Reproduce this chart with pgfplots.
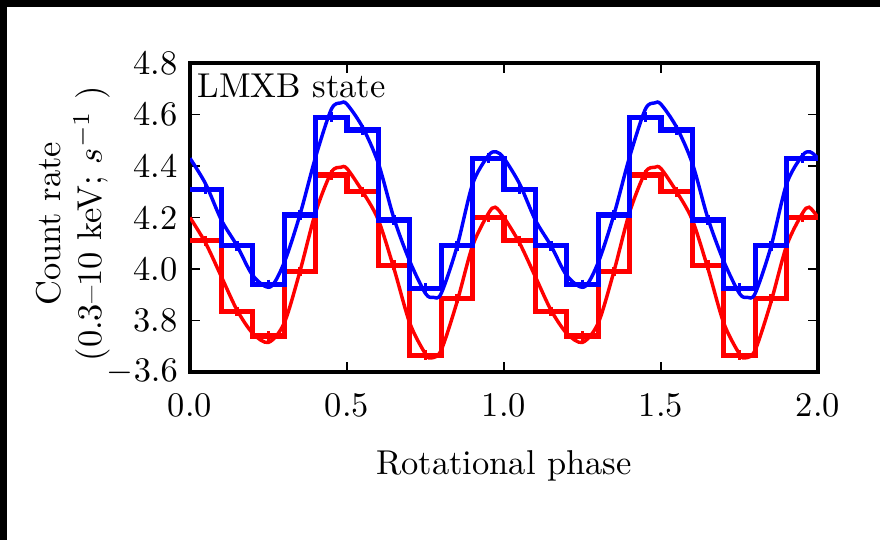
\documentclass[border=0pt]{standalone}
\usepackage{pgfplots}
\pgfplotsset{compat=1.18}
\definecolor{mplred}{HTML}{FF0000}
\definecolor{mplblue}{HTML}{0000FF}

% binned light curves (bin width 0.1 in phase), two cycles
\pgfplotstableread{
x     red    blue
0.0   4.110  4.310
0.1   3.835  4.090
0.2   3.740  3.940
0.3   3.990  4.210
0.4   4.365  4.590
0.5   4.300  4.540
0.6   4.015  4.190
0.7   3.665  3.925
0.8   3.885  4.090
0.9   4.200  4.430
1.0   4.110  4.310
1.1   3.835  4.090
1.2   3.740  3.940
1.3   3.990  4.210
1.4   4.365  4.590
1.5   4.300  4.540
1.6   4.015  4.190
1.7   3.665  3.925
1.8   3.885  4.090
1.9   4.200  4.430
2.0   4.200  4.430
}\binned

\pgfplotstableread{
x     red    blue
0.05  4.110  4.310
0.15  3.835  4.090
0.25  3.740  3.940
0.35  3.990  4.210
0.45  4.365  4.590
0.55  4.300  4.540
0.65  4.015  4.190
0.75  3.665  3.925
0.85  3.885  4.090
0.95  4.200  4.430
1.05  4.110  4.310
1.15  3.835  4.090
1.25  3.740  3.940
1.35  3.990  4.210
1.45  4.365  4.590
1.55  4.300  4.540
1.65  4.015  4.190
1.75  3.665  3.925
1.85  3.885  4.090
1.95  4.200  4.430
}\centres

% fitted profiles
\pgfplotstableread{
x      y
0.000  4.200
0.050  4.100
0.100  3.970
0.150  3.840
0.200  3.750
0.250  3.715
0.300  3.790
0.350  3.990
0.400  4.220
0.450  4.375
0.480  4.395
0.500  4.390
0.550  4.300
0.600  4.190
0.650  4.000
0.700  3.790
0.750  3.670
0.770  3.655
0.800  3.685
0.850  3.870
0.900  4.090
0.950  4.215
0.972  4.240
1.000  4.200
1.050  4.100
1.100  3.970
1.150  3.840
1.200  3.750
1.250  3.715
1.300  3.790
1.350  3.990
1.400  4.220
1.450  4.375
1.480  4.395
1.500  4.390
1.550  4.300
1.600  4.190
1.650  4.000
1.700  3.790
1.750  3.670
1.770  3.655
1.800  3.685
1.850  3.870
1.900  4.090
1.950  4.215
1.972  4.240
2.000  4.200
}\redfit

\pgfplotstableread{
x      y
0.000  4.430
0.050  4.330
0.100  4.190
0.150  4.090
0.200  3.975
0.255  3.930
0.300  4.025
0.350  4.210
0.400  4.435
0.450  4.620
0.480  4.645
0.500  4.640
0.550  4.550
0.600  4.410
0.650  4.195
0.700  4.030
0.750  3.905
0.775  3.890
0.800  3.905
0.850  4.085
0.900  4.330
0.950  4.440
0.975  4.455
1.000  4.430
1.050  4.330
1.100  4.190
1.150  4.090
1.200  3.975
1.255  3.930
1.300  4.025
1.350  4.210
1.400  4.435
1.450  4.620
1.480  4.645
1.500  4.640
1.550  4.550
1.600  4.410
1.650  4.195
1.700  4.030
1.750  3.905
1.775  3.890
1.800  3.905
1.850  4.085
1.900  4.330
1.950  4.440
1.975  4.455
2.000  4.430
}\bluefit

\begin{document}
\begin{tikzpicture}
\begin{scope}[x=0.29pt,y=0.29pt]
\useasboundingbox (-190,-168) rectangle (690,372);
\end{scope}
\begin{axis}[at={(0,0)},anchor=south west,scale only axis,
 width=182.1pt,height=89.6pt,
 xmin=0,xmax=2,ymin=3.6,ymax=4.8,
 xtick={0,0.5,1,1.5,2},xticklabels={0.0,0.5,1.0,1.5,2.0},
 ytick={3.6,3.8,4.0,4.2,4.4,4.6,4.8},
 yticklabels={$-3.6$,3.8,4.0,4.2,4.4,4.6,4.8},
 tick align=inside,major tick length=2.9pt,
 tick style={black,line width=0.45pt},
 axis line style={line width=1.1pt},
 xticklabel style={yshift=-2.8pt},
 xlabel={Rotational phase},
 xlabel style={at={(axis description cs:0.5,-0.333)},anchor=base},
 ylabel={Count rate\\(0.3--10 keV; $s^{-1}$ )},
 ylabel style={align=center,at={(axis description cs:-0.186,0.48)},anchor=center},
]
\addplot[mplred,line width=1.5pt,const plot] table[x=x,y=red] {\binned};
\addplot[mplred,only marks,mark=|,mark size=1.4pt,mark options={line width=1pt}] table[x=x,y=red] {\centres};
\addplot[mplred,line width=1pt,smooth] table {\redfit};
\addplot[mplblue,line width=1.5pt,const plot] table[x=x,y=blue] {\binned};
\addplot[mplblue,only marks,mark=|,mark size=1.4pt,mark options={line width=1pt}] table[x=x,y=blue] {\centres};
\addplot[mplblue,line width=1pt,smooth] table {\bluefit};
\node[anchor=base west,inner sep=0pt] at (axis description cs:0.011,0.887) {LMXB state};
\end{axis}
\begin{scope}[x=0.29pt,y=0.29pt]
\fill[black] (-190,365) rectangle (690,372);
\fill[black] (-190,-168) rectangle (-183,372);
\end{scope}
\end{tikzpicture}
\end{document}
